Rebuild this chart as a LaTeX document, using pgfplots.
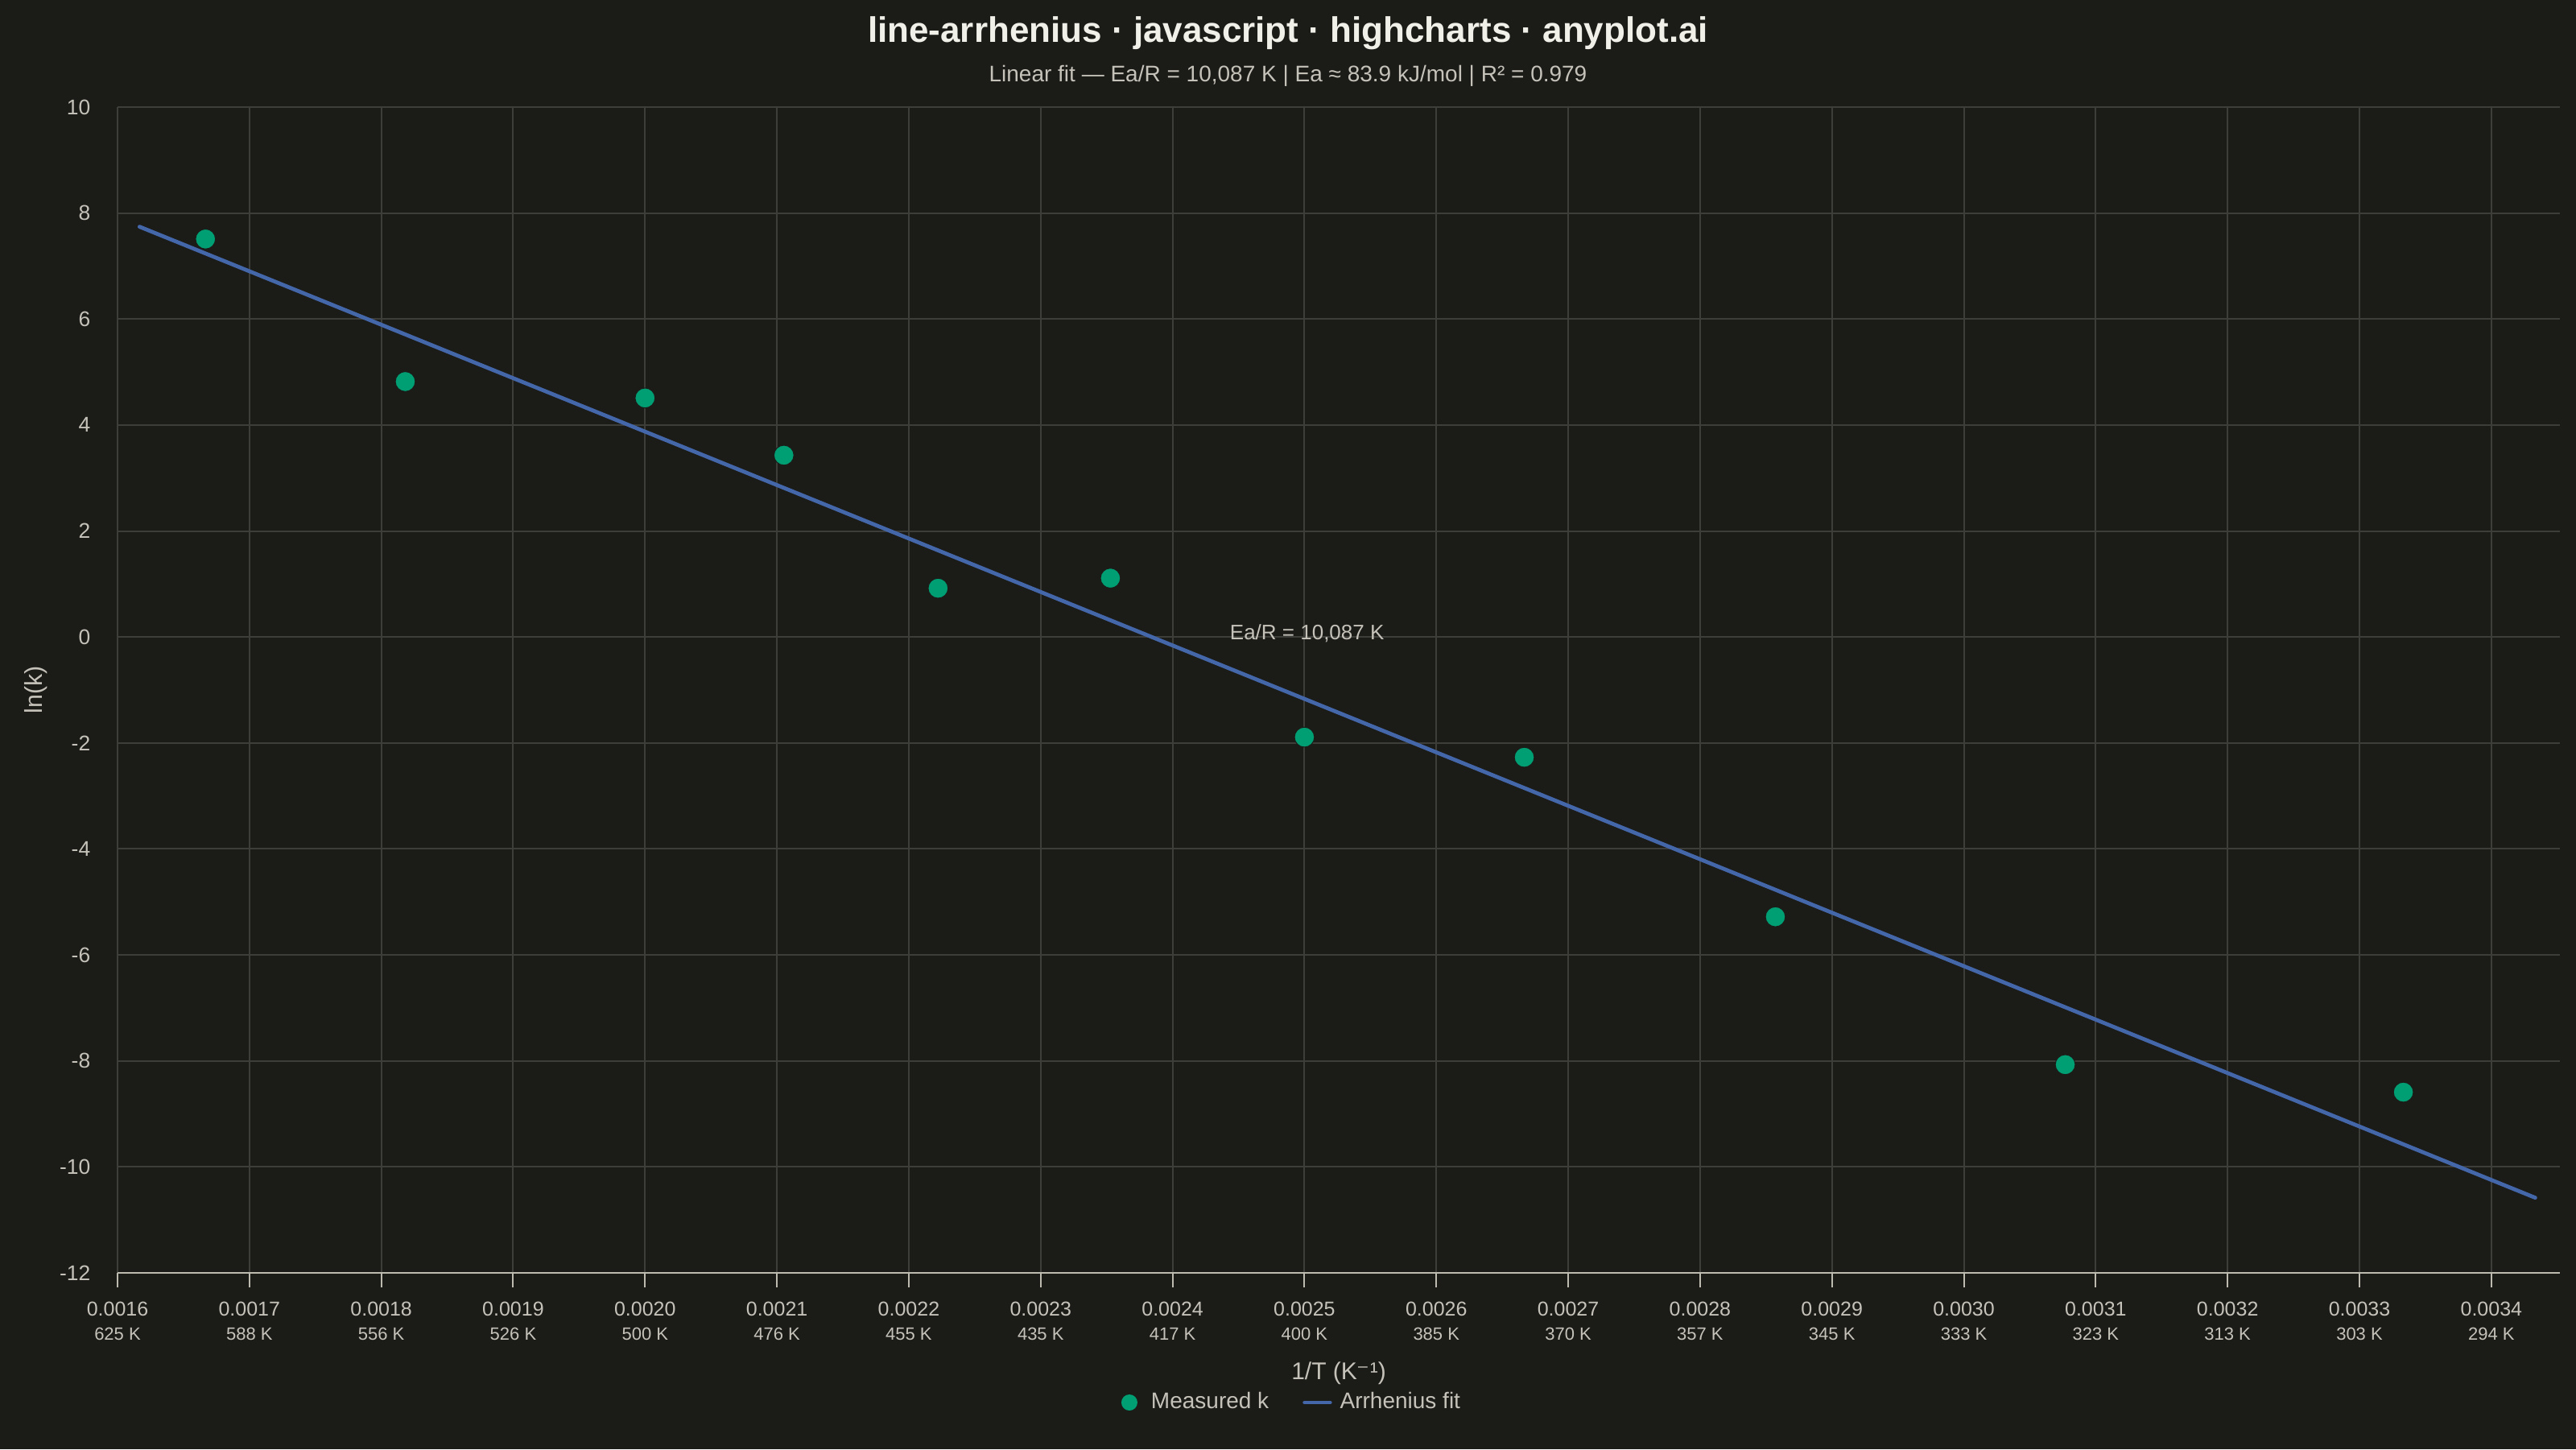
\documentclass[border=0pt]{standalone}
\usepackage{pgfplots}
\pgfplotsset{compat=1.18}
\usepackage{fontspec}
\setmainfont{Liberation Sans}
\newfontfamily\dejavu{DejaVu Sans}
\definecolor{bg}{HTML}{1B1B18}
\definecolor{titlecol}{HTML}{F0EFE8}
\definecolor{txt}{HTML}{C5C2B9}
\definecolor{gridcol}{HTML}{3D3D39}
\definecolor{axiscol}{HTML}{BDBAB0}
\definecolor{ptgreen}{HTML}{009E73}
\definecolor{fitblue}{HTML}{4467AA}
\begin{document}
\begin{tikzpicture}
\useasboundingbox (0,0) rectangle (800pt,450pt);
\fill[bg] (0,0) rectangle (800pt,450pt);
\begin{axis}[
  scale only axis, width=758.5pt, height=362pt,
  at={(36.5pt,54.75pt)}, anchor=south west,
  xmin=0.0016, xmax=0.003452, ymin=-12, ymax=10,
  scaled x ticks=false, scaled y ticks=false,
  axis x line*=bottom, axis y line*=left,
  x axis line style={draw=axiscol, line width=0.5pt, -},
  y axis line style={draw=none},
  xtick={0.0016,0.0017,0.0018,0.0019,0.0020,0.0021,0.0022,0.0023,0.0024,0.0025,0.0026,0.0027,0.0028,0.0029,0.0030,0.0031,0.0032,0.0033,0.0034},
  xticklabels={
    0.0016\\{\fontsize{5.5pt}{7.5pt}\selectfont 625 K},
    0.0017\\{\fontsize{5.5pt}{7.5pt}\selectfont 588 K},
    0.0018\\{\fontsize{5.5pt}{7.5pt}\selectfont 556 K},
    0.0019\\{\fontsize{5.5pt}{7.5pt}\selectfont 526 K},
    0.0020\\{\fontsize{5.5pt}{7.5pt}\selectfont 500 K},
    0.0021\\{\fontsize{5.5pt}{7.5pt}\selectfont 476 K},
    0.0022\\{\fontsize{5.5pt}{7.5pt}\selectfont 455 K},
    0.0023\\{\fontsize{5.5pt}{7.5pt}\selectfont 435 K},
    0.0024\\{\fontsize{5.5pt}{7.5pt}\selectfont 417 K},
    0.0025\\{\fontsize{5.5pt}{7.5pt}\selectfont 400 K},
    0.0026\\{\fontsize{5.5pt}{7.5pt}\selectfont 385 K},
    0.0027\\{\fontsize{5.5pt}{7.5pt}\selectfont 370 K},
    0.0028\\{\fontsize{5.5pt}{7.5pt}\selectfont 357 K},
    0.0029\\{\fontsize{5.5pt}{7.5pt}\selectfont 345 K},
    0.0030\\{\fontsize{5.5pt}{7.5pt}\selectfont 333 K},
    0.0031\\{\fontsize{5.5pt}{7.5pt}\selectfont 323 K},
    0.0032\\{\fontsize{5.5pt}{7.5pt}\selectfont 313 K},
    0.0033\\{\fontsize{5.5pt}{7.5pt}\selectfont 303 K},
    0.0034\\{\fontsize{5.5pt}{7.5pt}\selectfont 294 K}},
  ytick={-12,-10,-8,-6,-4,-2,0,2,4,6,8,10},
  yticklabels={-12,-10,-8,-6,-4,-2,0,2,4,6,8,10},
  xticklabel style={align=center, anchor=north, inner sep=0pt, font=\fontsize{6.25pt}{7.5pt}\selectfont, text=txt, yshift=-4.25pt},
  yticklabel style={anchor=east, inner sep=0pt, font=\fontsize{6.6pt}{8pt}\selectfont, text=txt, xshift=-8.25pt},
  grid=major, major grid style={draw=gridcol, line width=0.5pt},
  xtick align=outside, major tick length=4.5pt,
  xtick style={draw=axiscol, line width=0.5pt},
  ytick style={draw=none},
  clip=false,
  legend columns=2,
  legend style={at={(axis description cs:0.4804,-0.1112)}, anchor=center,
    draw=none, fill=none, text=txt, font=\fontsize{7pt}{8pt}\selectfont,
    nodes={inner sep=0pt, anchor=west}, column sep=2.5pt,
    /tikz/every even column/.append style={column sep=10.5pt}},
]
\addplot[only marks, mark=*, mark size=3.1pt, ptgreen,
  mark options={draw=bg, fill=ptgreen, line width=0.25pt},
  legend image code/.code={\fill[ptgreen, draw=none] (2.5pt,0pt) circle (2.5pt); \path[draw=none, fill=none] (0pt,0pt) rectangle (6.75pt,0.1pt);}]
  coordinates {
  (0.0016667, 7.51) (0.0018182, 4.82) (0.0020000, 4.51) (0.0021053, 3.43)
  (0.0022222, 0.92) (0.0023529, 1.11) (0.0025000, -1.89) (0.0026667, -2.27)
  (0.0028571, -5.28) (0.0030769, -8.07) (0.0033333, -8.59)};
\addlegendentry{Measured k}
\addplot[fitblue, line width=1.2pt, line cap=round,
  legend image code/.code={\draw[fitblue, line width=1.1pt] (0pt,0pt) -- (8pt,0pt);}]
  coordinates {(0.0016167, 7.742) (0.0034333, -10.582)};
\addlegendentry{Arrhenius fit}
\node[text=txt, font=\fontsize{6.5pt}{8pt}\selectfont, anchor=center, inner sep=0pt] at (axis cs:0.002502,0.06) {Ea/R = 10,087 K};
\end{axis}
\node[anchor=base, text=titlecol, font=\fontsize{11pt}{13pt}\selectfont\bfseries] at (400pt,436.75pt) {line-arrhenius · javascript · highcharts · anyplot.ai};
\node[anchor=base, text=txt, font=\fontsize{7pt}{8pt}\selectfont] at (400pt,424.6pt) {Linear fit — Ea/R = 10,087 K | Ea ≈ 83.9 kJ/mol | R² = 0.979};
\node[anchor=base, text=txt, font=\fontsize{7.5pt}{9pt}\selectfont] at (415.75pt,21.75pt) {1/T (K{\dejavu ⁻}¹)};
\node[anchor=base, rotate=90, text=txt, font=\fontsize{7.6pt}{9pt}\selectfont] at (13.2pt,235.75pt) {ln(k)};
\end{tikzpicture}
\end{document}
